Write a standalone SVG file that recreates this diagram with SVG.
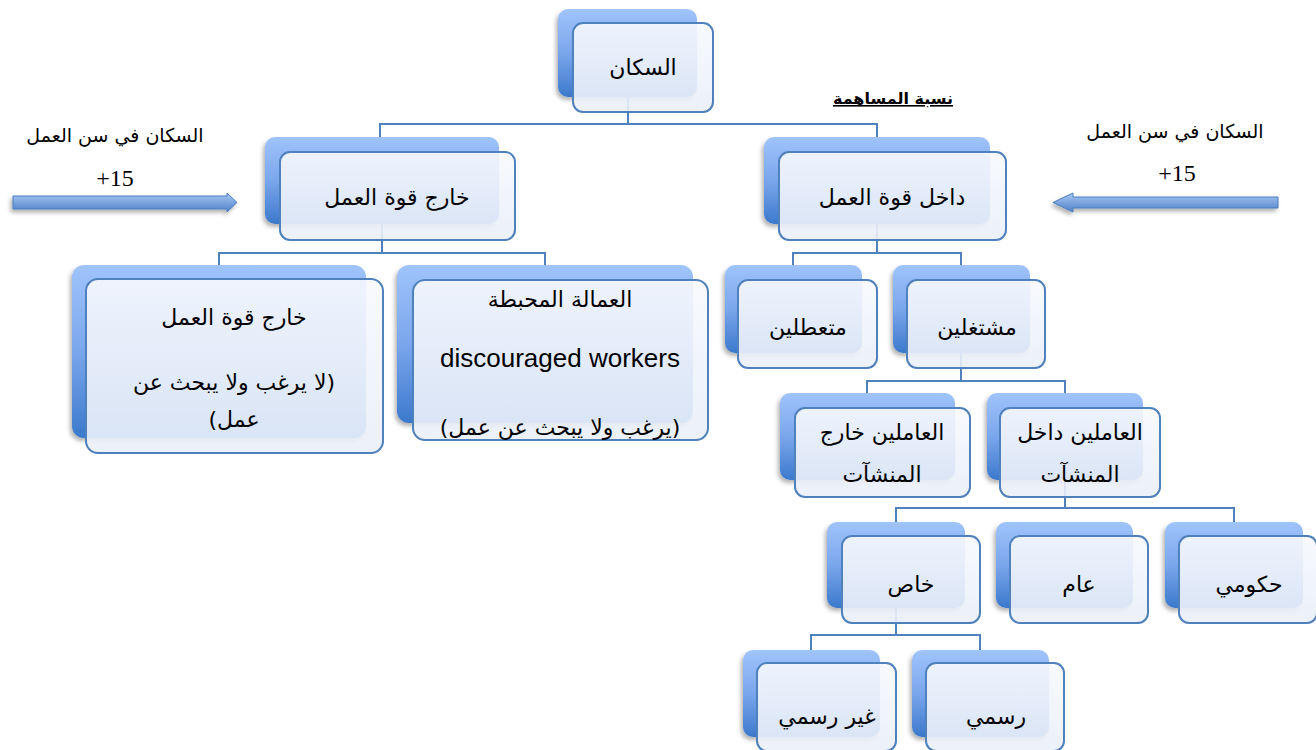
<svg xmlns="http://www.w3.org/2000/svg" width="1316" height="750" viewBox="0 0 1316 750">
<defs>
<linearGradient id="bk" x1="0" y1="0" x2="0" y2="1">
<stop offset="0" stop-color="#a0c4fb"/>
<stop offset="0.5" stop-color="#7aa6ec"/>
<stop offset="1" stop-color="#3c79cc"/>
</linearGradient>
<linearGradient id="fr" x1="0" y1="0" x2="0" y2="1">
<stop offset="0" stop-color="#f7f9fd"/>
<stop offset="1" stop-color="#e9eff9"/>
</linearGradient>
<linearGradient id="ar" x1="0" y1="0" x2="0" y2="1">
<stop offset="0" stop-color="#a9c8f5"/>
<stop offset="1" stop-color="#4d80c8"/>
</linearGradient>
<filter id="sh" x="-20%" y="-20%" width="140%" height="150%">
<feDropShadow dx="-2" dy="3" stdDeviation="2" flood-color="#000" flood-opacity="0.3"/>
</filter>
</defs>
<style>
.b{fill:url(#bk);filter:url(#sh)}
.f{fill:url(#fr);fill-opacity:0.9;stroke:#4f81bd;stroke-width:2}
.t{font-family:"DejaVu Sans","Liberation Sans",sans-serif;font-size:22px;fill:#000;text-anchor:middle;direction:rtl;unicode-bidi:embed}
.s{font-size:19px}
.e{font-family:"Liberation Sans",Arial,sans-serif;font-size:26px;fill:#000;text-anchor:middle}
.n{font-family:"Liberation Serif","Times New Roman",serif;font-size:24px;fill:#000;text-anchor:middle}
.c{fill:none;stroke:#4f81bd;stroke-width:2}
.a{fill:url(#ar);stroke:#4a7ebb;stroke-width:1;filter:url(#sh)}
</style>
<rect width="1316" height="750" fill="#fff"/>
<g id="connectors">
<path class="c" d="M380,137 V124 H877 V137 M628,97 V124"/>
<path class="c" d="M382,224 V253 M219,265 V253 H545 V265"/>
<path class="c" d="M877,224 V253 M793,265 V253 H961 V265"/>
<path class="c" d="M961,353 V381 M867,393 V381 H1065 V393"/>
<path class="c" d="M1065,480 V508 M896,522 V508 H1234 V522"/>
<path class="c" d="M896,608 V635 M811,650 V635 H980 V650"/>
</g>
<g id="arrow-left">
<polygon class="a" points="13,196 227,196 227,193 237,202.5 227,212 227,209 13,209"/>
<text class="t s" x="115" y="142">السكان في سن العمل</text>
<text class="n" x="115" y="186">+15</text>
</g>
<g id="arrow-right">
<polygon class="a" points="1278,197 1073,197 1073,193 1053,202.5 1073,212 1073,208 1278,208"/>
<text class="t s" x="1175" y="138">السكان في سن العمل</text>
<text class="n" x="1177" y="181">+15</text>
</g>
<g id="label">
<text x="893" y="104" style="font-family:'DejaVu Sans',sans-serif;font-size:16px;font-weight:bold;text-anchor:middle;text-decoration:underline;direction:rtl">نسبة المساهمة</text>
</g>
<g id="n-population">
<rect class="b" x="558" y="9" width="139" height="88" rx="10"/>
<rect class="f" x="573" y="23" width="140" height="89" rx="10"/>
<text class="t" x="643" y="75">السكان</text>
</g>
<g id="n-outside-lf">
<rect class="b" x="265" y="137" width="234" height="87" rx="10"/>
<rect class="f" x="280" y="152" width="235" height="88" rx="10"/>
<text class="t" x="397" y="205">خارج قوة العمل</text>
</g>
<g id="n-inside-lf">
<rect class="b" x="764" y="137" width="226" height="87" rx="10"/>
<rect class="f" x="779" y="152" width="227" height="88" rx="10"/>
<text class="t" x="892" y="205">داخل قوة العمل</text>
</g>
<g id="n-outside-detail">
<rect class="b" x="72" y="265" width="294" height="173" rx="12"/>
<rect class="f" x="86" y="279" width="297" height="174" rx="12"/>
<text class="t" x="234" y="325">خارج قوة العمل</text>
<text class="t" x="234" y="390">(لا يرغب ولا يبحث عن</text>
<text class="t" x="234" y="427">عمل)</text>
</g>
<g id="n-discouraged">
<rect class="b" x="397" y="265" width="296" height="158" rx="12"/>
<rect class="f" x="413" y="280" width="295" height="160" rx="12"/>
<text class="t" x="560" y="307">العمالة المحبطة</text>
<text class="e" x="560" y="367">discouraged workers</text>
<text class="t" x="560" y="435">(يرغب ولا يبحث عن عمل)</text>
</g>
<g id="n-unemployed">
<rect class="b" x="725" y="265" width="137" height="88" rx="10"/>
<rect class="f" x="738" y="280" width="139" height="88" rx="10"/>
<text class="t" x="808" y="335">متعطلين</text>
</g>
<g id="n-employed">
<rect class="b" x="893" y="265" width="137" height="88" rx="10"/>
<rect class="f" x="907" y="280" width="138" height="88" rx="10"/>
<text class="t" x="977" y="335">مشتغلين</text>
</g>
<g id="n-outside-est">
<rect class="b" x="780" y="393" width="175" height="87" rx="10"/>
<rect class="f" x="795" y="408" width="175" height="89" rx="10"/>
<text class="t" x="882" y="440">العاملين خارج</text>
<text class="t" x="882" y="482">المنشآت</text>
</g>
<g id="n-inside-est">
<rect class="b" x="987" y="393" width="156" height="87" rx="10"/>
<rect class="f" x="1000" y="408" width="160" height="89" rx="10"/>
<text class="t" x="1080" y="440">العاملين داخل</text>
<text class="t" x="1080" y="482">المنشآت</text>
</g>
<g id="n-private">
<rect class="b" x="827" y="522" width="138" height="86" rx="10"/>
<rect class="f" x="842" y="536" width="138" height="87" rx="10"/>
<text class="t" x="911" y="592">خاص</text>
</g>
<g id="n-public">
<rect class="b" x="996" y="522" width="137" height="86" rx="10"/>
<rect class="f" x="1010" y="536" width="138" height="87" rx="10"/>
<text class="t" x="1079" y="592">عام</text>
</g>
<g id="n-government">
<rect class="b" x="1165" y="522" width="138" height="86" rx="10"/>
<rect class="f" x="1179" y="536" width="138" height="87" rx="10"/>
<text class="t" x="1249" y="592">حكومي</text>
</g>
<g id="n-informal">
<rect class="b" x="743" y="650" width="137" height="87" rx="10"/>
<rect class="f" x="757" y="663" width="139" height="88" rx="10"/>
<text class="t" x="827" y="724">غير رسمي</text>
</g>
<g id="n-formal">
<rect class="b" x="912" y="650" width="137" height="87" rx="10"/>
<rect class="f" x="926" y="663" width="138" height="88" rx="10"/>
<text class="t" x="996" y="724">رسمي</text>
</g>
</svg>
